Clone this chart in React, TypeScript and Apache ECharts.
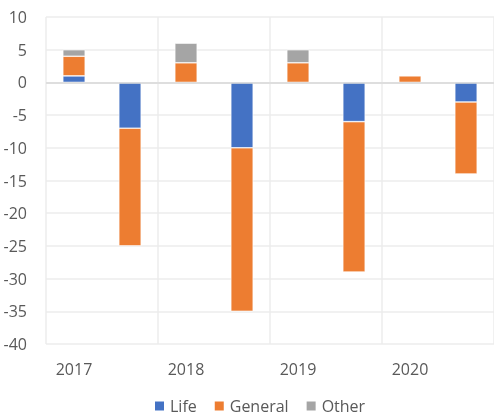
import React, { useEffect, useRef } from "react";
import * as echarts from "echarts";

const categories = ["2017", "", "2018", "", "2019", "", "2020", ""];
const lifeValues = [1, -7, null, -10, null, -6, null, -3];
const generalValues = [3, -18, 3, -25, 3, -23, 1, -11];
const otherValues = [1, null, 3, null, 2, null, null, null];
const yTicks = { min: -40, max: 10, interval: 5 };

const FONT = "'Open Sans', 'Noto Sans', sans-serif";

export default function App() {
  const ref = useRef<HTMLDivElement>(null);
  useEffect(() => {
    if (!ref.current) return;
    const chart = echarts.init(ref.current, undefined, { renderer: "svg" });
    const barBase = {
      type: "bar" as const,
      stack: "total",
      barWidth: "40%",
      itemStyle: { borderColor: "#ffffff", borderWidth: 0.6 },
    };
    chart.setOption({
      animation: false,
      textStyle: { fontFamily: FONT },
      grid: { left: 46, right: -3, top: 17, bottom: 75, containLabel: false },
      legend: {
        left: 153,
        top: 398,
        padding: 0,
        itemWidth: 11,
        itemHeight: 11,
        itemGap: 16,
        icon: "rect",
        textStyle: { color: "#595959", fontSize: 16, lineHeight: 16, fontFamily: FONT },
        data: ["Life", "General", "Other"],
      },
      xAxis: {
        type: "category",
        data: categories,
        axisLine: { show: false },
        axisTick: { show: false },
        axisLabel: {
          interval: 0,
          color: "#595959",
          fontSize: 16,
          margin: 17,
          fontFamily: FONT,
        },
        splitLine: {
          show: true,
          interval: (index: number) => index % 2 === 0,
          lineStyle: { color: "#ececec", width: 1.5 },
        },
      },
      yAxis: {
        type: "value",
        min: yTicks.min,
        max: yTicks.max,
        interval: yTicks.interval,
        axisLine: { show: false },
        axisTick: { show: false },
        axisLabel: { color: "#595959", fontSize: 16, margin: 19, fontFamily: FONT },
        splitLine: { lineStyle: { color: "#ececec", width: 1.5 } },
      },
      series: [
        {
          ...barBase,
          name: "Life",
          data: lifeValues,
          itemStyle: { ...barBase.itemStyle, color: "#4472C4" },
          markLine: {
            silent: true,
            symbol: "none",
            label: { show: false },
            lineStyle: { color: "#d9d9d9", type: "solid", width: 1.5 },
            data: [{ yAxis: 0 }],
          },
        },
        {
          ...barBase,
          name: "General",
          data: generalValues,
          itemStyle: { ...barBase.itemStyle, color: "#ED7D31" },
        },
        {
          ...barBase,
          name: "Other",
          data: otherValues,
          itemStyle: { ...barBase.itemStyle, color: "#A5A5A5" },
        },
      ],
    });
    return () => chart.dispose();
  }, []);
  return <div ref={ref} style={{ width: 494, height: 419, position: "fixed", left: 0, top: 0 }} />;
}
